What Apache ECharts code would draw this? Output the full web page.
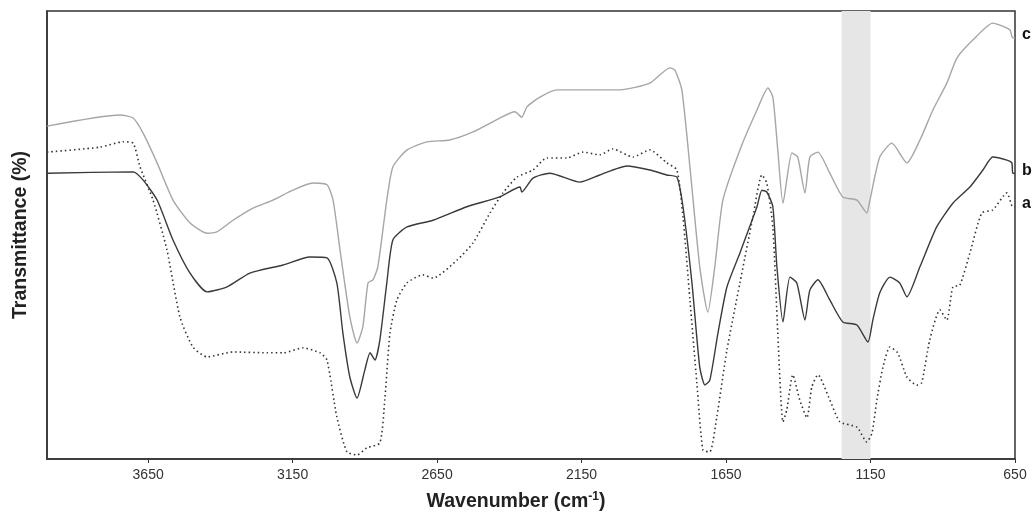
<!DOCTYPE html>
<html>
<head>
<meta charset="utf-8">
<script src="https://cdn.jsdelivr.net/npm/echarts@6/dist/echarts.min.js"></script>
<style>html,body{margin:0;padding:0;background:#fff}#c{width:1033px;height:516px}</style>
</head>
<body>
<div id="c"></div>
<script>
// Wavenumber (cm-1), transmittance (arbitrary %)
const seriesC = [[4000,74.3],[3747,76.8],[3702,76.1],[3668,72.8],[3619,66.1],[3564,57.8],[3505,52.7],[3446,50.4],[3412,50.7],[3356,53.3],[3287,56.0],[3218,57.8],[3149,60.0],[3080,61.6],[3031,61.2],[3010,57.8],[2986,46.7],[2952,31.7],[2927,25.9],[2907,29.5],[2889,39.3],[2872,40.0],[2855,42.9],[2824,57.8],[2803,65.2],[2754,69.0],[2685,70.8],[2606,71.2],[2526,73.0],[2433,76.1],[2381,77.5],[2357,76.3],[2339,78.6],[2294,80.8],[2235,82.4],[2145,82.4],[2017,82.4],[1914,83.9],[1844,87.3],[1827,86.8],[1803,82.4],[1775,65.2],[1741,42.9],[1713,32.8],[1689,42.9],[1661,57.8],[1602,69.0],[1543,77.9],[1505,82.8],[1488,80.8],[1471,69.0],[1453,57.1],[1422,68.3],[1402,67.4],[1377,59.4],[1360,67.4],[1332,68.5],[1291,63.8],[1246,58.5],[1197,57.8],[1163,54.9],[1152,57.8],[1118,67.4],[1076,70.5],[1024,66.1],[979,71.2],[934,77.9],[886,83.9],[851,89.5],[796,93.5],[727,97.3],[668,95.8],[658,94.0],[650,94.0]];
const seriesB = [[4000,63.8],[3702,64.1],[3668,62.3],[3619,57.8],[3564,48.9],[3505,41.5],[3446,37.3],[3377,38.4],[3298,41.5],[3183,43.3],[3090,45.1],[3031,44.9],[2997,39.3],[2976,28.1],[2952,18.3],[2927,13.6],[2900,19.9],[2882,23.7],[2865,22.1],[2848,26.6],[2824,39.3],[2803,48.9],[2754,51.8],[2664,53.3],[2547,56.3],[2433,58.5],[2363,60.7],[2357,59.6],[2318,62.7],[2260,63.8],[2156,61.8],[2087,63.4],[1993,65.4],[1914,64.5],[1855,63.4],[1820,62.9],[1799,56.3],[1768,39.3],[1741,20.5],[1723,16.5],[1706,17.6],[1678,28.1],[1647,38.4],[1602,46.0],[1543,56.3],[1526,60.0],[1509,59.6],[1488,56.3],[1474,42.9],[1453,30.6],[1429,40.6],[1405,39.3],[1377,31.0],[1360,37.7],[1332,40.0],[1291,35.5],[1246,30.6],[1197,29.9],[1159,26.1],[1142,31.0],[1118,37.1],[1083,40.6],[1049,39.3],[1024,36.2],[979,42.9],[921,51.8],[865,57.1],[806,60.7],[761,64.5],[727,67.4],[678,66.7],[661,66.1],[658,63.8],[650,63.8]];
const seriesA = [[4000,68.5],[3817,69.6],[3737,70.8],[3702,70.5],[3678,65.2],[3633,57.8],[3585,46.7],[3540,31.7],[3495,25.0],[3446,22.8],[3356,23.9],[3239,23.7],[3183,23.7],[3114,24.8],[3055,23.7],[3031,22.1],[2997,9.4],[2962,1.6],[2927,0.9],[2893,2.5],[2848,3.6],[2831,13.2],[2813,28.1],[2789,35.5],[2754,39.3],[2699,41.1],[2664,40.4],[2581,44.4],[2526,48.2],[2467,54.9],[2422,59.4],[2374,62.9],[2318,64.5],[2270,67.2],[2201,67.2],[2145,68.5],[2087,67.9],[2042,69.2],[1972,67.4],[1914,69.0],[1855,66.1],[1820,64.5],[1799,54.0],[1775,35.5],[1751,17.0],[1730,2.0],[1706,1.6],[1682,9.4],[1647,24.3],[1602,39.3],[1557,54.0],[1526,63.4],[1509,61.6],[1488,51.8],[1471,28.1],[1453,8.3],[1440,10.9],[1419,18.8],[1395,13.2],[1370,9.2],[1353,16.1],[1332,18.8],[1291,13.2],[1256,8.3],[1197,7.1],[1163,3.8],[1145,5.8],[1128,13.2],[1107,20.5],[1083,25.0],[1056,23.7],[1024,18.3],[990,16.5],[973,17.0],[945,26.6],[910,33.3],[886,31.0],[865,38.4],[841,38.8],[806,46.0],[765,54.9],[727,55.6],[678,59.4],[658,56.3],[650,56.3]];
const shadedBand = [1250, 1150];
const xTicks = {min: 650, max: 4000, interval: 500};
const seriesNames = ['c', 'b', 'a'];

const FONT = 'Liberation Sans, Arial, sans-serif';
const chart = echarts.init(document.getElementById('c'), null, {renderer: 'canvas'});
chart.setOption({
  animation: false,
  backgroundColor: '#fff',
  grid: {left: 47, right: 18, top: 11, bottom: 57, containLabel: false, outerBoundsMode: 'none',
    show: true, borderColor: '#333', borderWidth: 1.5, backgroundColor: 'transparent'},
  xAxis: {
    type: 'value', inverse: true, min: xTicks.min, max: xTicks.max, interval: xTicks.interval,
    splitLine: {show: false},
    axisLine: {show: true, lineStyle: {color: '#333', width: 1.5}},
    axisTick: {show: true, length: 4, lineStyle: {color: '#333'}},
    axisLabel: {showMaxLabel: false, color: '#333', fontFamily: FONT, fontSize: 14, margin: 9,
      formatter: v => String(v)},
    name: '{t|Wavenumber (cm}{s|-1}{t|)}', nameLocation: 'middle', nameGap: 32,
    nameTextStyle: {padding: [0, 30, 0, 0], rich: {
      t: {fontFamily: FONT, fontWeight: 'bold', fontSize: 19.5, color: '#222'},
      s: {fontFamily: FONT, fontWeight: 'bold', fontSize: 12, color: '#222', verticalAlign: 'top', padding: [0,0,10,0]}
    }}
  },
  yAxis: {
    type: 'value', min: 0, max: 100,
    splitLine: {show: false}, axisTick: {show: false}, axisLabel: {show: false},
    axisLine: {show: true, lineStyle: {color: '#333', width: 1.5}},
    name: 'Transmittance (%)', nameLocation: 'middle', nameGap: 16, nameRotate: 90,
    nameTextStyle: {fontFamily: FONT, fontWeight: 'bold', fontSize: 19.5, color: '#222'}
  },
  series: [
    {type: 'line', name: 'band', data: [], z: 1, silent: true,
     markArea: {silent: true, itemStyle: {color: '#e6e6e6'}, data: [[{xAxis: shadedBand[0]}, {xAxis: shadedBand[1]}]]}},
    {type: 'line', name: seriesNames[0], data: seriesC, showSymbol: false, smooth: 0.2, z: 3,
     lineStyle: {color: '#a6a6a6', width: 1.4}},
    {type: 'line', name: seriesNames[1], data: seriesB, showSymbol: false, smooth: 0.2, z: 3,
     lineStyle: {color: '#3a3a3a', width: 1.4}},
    {type: 'line', name: seriesNames[2], data: seriesA, showSymbol: false, smooth: 0.2, z: 3,
     lineStyle: {color: '#333', width: 1.6, type: [1.5, 3]}}
  ]
});
// series labels placed just right of each curve's last point
const ends = [seriesC, seriesB, seriesA].map((s, i) => {
  const p = chart.convertToPixel({gridIndex: 0}, s[s.length - 1]);
  return {type: 'text', x: p[0] + 7, y: p[1] - 3, z: 10,
    style: {text: seriesNames[i], fontFamily: FONT, fontWeight: 'bold', fontSize: 16, fill: '#111',
      align: 'left', verticalAlign: 'middle'}};
});
chart.setOption({graphic: ends});
</script>
</body>
</html>
